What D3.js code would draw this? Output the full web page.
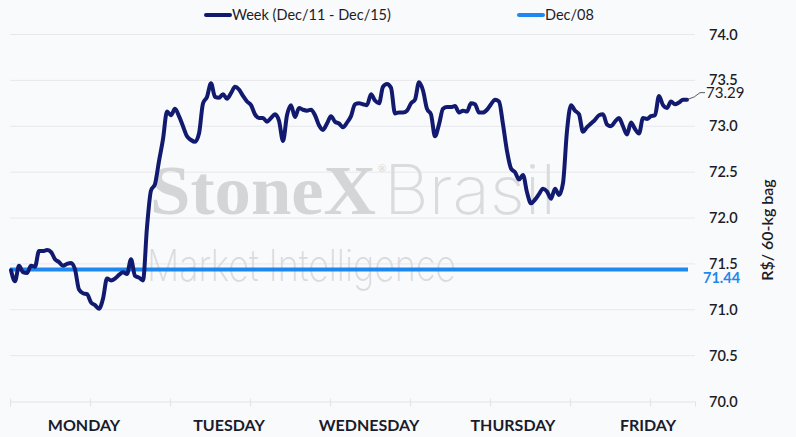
<!DOCTYPE html>
<html>
<head>
<meta charset="utf-8">
<script src="https://cdn.jsdelivr.net/npm/d3@7"></script>
<style>
  body { margin: 0; background: #f9fafc; }
  svg { display: block; font-family: Lato, "Noto Sans", sans-serif; }
</style>
</head>
<body>
<div class="chart"></div>
<script>
// intraday prices, week Dec/11 - Dec/15 (R$/60-kg bag)
var weekPrices = [
  71.43, 71.31, 71.48, 71.41, 71.40, 71.48, 71.47, 71.64, 71.64, 71.65,
  71.63, 71.55, 71.52, 71.48, 71.50, 71.51, 71.44, 71.22, 71.18, 71.17,
  71.08, 71.05, 71.01, 71.12, 71.34, 71.32, 71.34, 71.38, 71.41, 71.39,
  71.55, 71.37, 71.35, 71.32, 71.90, 72.30, 72.37, 72.62, 72.86, 73.16,
  73.12, 73.19, 73.11, 73.00, 72.89, 72.85, 72.83, 72.92, 73.25, 73.32,
  73.47, 73.32, 73.31, 73.35, 73.30, 73.36, 73.43, 73.40, 73.33, 73.27,
  73.23, 73.13, 73.09, 73.09, 73.05, 73.09, 73.13, 73.06, 72.84, 73.12,
  73.23, 73.10, 73.20, 73.18, 73.17, 73.18, 73.12, 73.01, 72.96, 73.03,
  73.11, 73.05, 73.03, 72.99, 73.04, 73.11, 73.24, 73.25, 73.24, 73.23,
  73.35, 73.28, 73.25, 73.43, 73.46, 73.42, 73.14, 73.15, 73.15, 73.17,
  73.25, 73.29, 73.48, 73.39, 73.19, 73.13, 72.89, 73.02, 73.19, 73.21,
  73.21, 73.22, 73.15, 73.17, 73.16, 73.25, 73.24, 73.15, 73.15, 73.18,
  73.24, 73.29, 73.27, 73.02, 72.73, 72.54, 72.50, 72.42, 72.47, 72.28,
  72.16, 72.20, 72.26, 72.32, 72.29, 72.21, 72.32, 72.25, 72.38, 72.95,
  73.23, 73.17, 73.13, 72.94, 72.99, 73.03, 73.07, 73.12, 73.13, 73.02,
  73.00, 73.05, 73.09, 73.00, 72.91, 73.04, 72.97, 72.92, 73.09, 73.08,
  73.11, 73.12, 73.33, 73.23, 73.20, 73.27, 73.24, 73.26, 73.29, 73.29
];
var refPrice = 71.44;   // Dec/08 close
var days = ["MONDAY", "TUESDAY", "WEDNESDAY", "THURSDAY", "FRIDAY"];
var dayPos = [18.25, 54.5, 89.5, 125.5, 159.25];
var xTicks = [-0.25, 19.75, 39.75, 59.75, 79.75, 99.75, 119.75, 139.75, 159.75];
var yTicks = [70.0, 70.5, 71.0, 71.5, 72.0, 72.5, 73.0, 73.5, 74.0];
var weekLabel = "Week (Dec/11 - Dec/15)";
var refLabel = "Dec/08";

var width = 796, height = 437;
var plotLeft = 10, plotRight = 695, plotTop = 34.5, plotBottom = 401.5;
var navy = "#121a70", blue = "#1e88ee";

var svg = d3.select(".chart").append("svg")
  .attr("width", width)
  .attr("height", height);

svg.append("rect").attr("width", width).attr("height", height).attr("fill", "#f9fafc");

var x = d3.scaleLinear().domain([-0.25, 171]).range([plotLeft, plotRight]);
var y = d3.scaleLinear().domain([70, 74]).range([plotBottom, plotTop]);

// grid
svg.append("g").selectAll("line")
  .data(yTicks.slice(1))
  .enter().append("line")
  .attr("x1", plotLeft).attr("x2", plotRight)
  .attr("y1", d => y(d)).attr("y2", d => y(d))
  .attr("stroke", "#e7e8ec").attr("stroke-width", 1);

// watermark
var wm = svg.append("g").attr("fill", "#d4d5d7");
wm.append("text").attr("x", 150).attr("y", 214)
  .attr("font-family", "'Liberation Serif', serif").attr("font-weight", "bold")
  .attr("font-size", 70).attr("textLength", 226).attr("lengthAdjust", "spacingAndGlyphs")
  .text("StoneX");
wm.append("text").attr("x", 378).attr("y", 172).attr("font-size", 10).text("®");
wm.append("text").attr("x", 384).attr("y", 214)
  .attr("font-family", "Inter, sans-serif").attr("font-weight", 200).attr("fill", "#dadbdd")
  .attr("font-size", 68).attr("textLength", 172).attr("lengthAdjust", "spacingAndGlyphs")
  .text("Brasil");
wm.append("text").attr("x", 147).attr("y", 281)
  .attr("font-family", "Inter, sans-serif").attr("font-weight", 200).attr("fill", "#dadbdd")
  .attr("font-size", 44).attr("textLength", 309).attr("lengthAdjust", "spacingAndGlyphs")
  .text("Market Intelligence");

// bottom axis
var xAxisGroup = svg.append("g")
  .attr("transform", "translate(0," + plotBottom + ")");
var xAxis = d3.axisBottom(x).tickValues(xTicks).tickSize(5).tickFormat("");
xAxis(xAxisGroup);
xAxisGroup.select(".domain").attr("stroke", "#e2e3e7");
xAxisGroup.selectAll(".tick line").attr("stroke", "#e2e3e7").attr("y1", -3);

svg.append("g").selectAll("text")
  .data(days)
  .enter().append("text")
  .attr("x", (d, i) => x(dayPos[i]))
  .attr("y", 431)
  .attr("text-anchor", "middle")
  .attr("font-size", 16).attr("font-weight", "bold").attr("fill", "#1a1c2b")
  .text(d => d);

// right axis labels
svg.append("g").selectAll("text")
  .data(yTicks)
  .enter().append("text")
  .attr("x", 709).attr("y", d => y(d) + 5)
  .attr("font-size", 14.5).attr("font-weight", 600).attr("fill", "#1c1c28")
  .text(d => d.toFixed(1));

svg.append("text")
  .attr("transform", "translate(773,230) rotate(-90)")
  .attr("text-anchor", "middle")
  .attr("font-size", 16).attr("font-weight", 600).attr("fill", "#1c1c28")
  .text("R$/ 60-kg bag");

// reference line
svg.append("line")
  .attr("x1", x(0) - 1).attr("x2", x(weekPrices.length - 1) + 1)
  .attr("y1", y(refPrice)).attr("y2", y(refPrice))
  .attr("stroke", blue).attr("stroke-width", 4);

// week line
var line = d3.line()
  .x((d, i) => x(i))
  .y(d => y(d))
  .curve(d3.curveMonotoneX);

svg.append("path")
  .datum(weekPrices)
  .attr("fill", "none")
  .attr("stroke", navy)
  .attr("stroke-width", 4)
  .attr("stroke-linejoin", "round")
  .attr("stroke-linecap", "round")
  .attr("d", line);

// end labels
var last = weekPrices[weekPrices.length - 1];
var lx = x(weekPrices.length - 1), ly = y(last);
svg.append("path")
  .attr("d", "M" + lx + "," + ly + " Q" + (lx + 8) + "," + (ly - 2) + " " + (lx + 13) + "," + (ly - 7) + " L" + (lx + 18) + "," + (ly - 7))
  .attr("fill", "none").attr("stroke", "#333").attr("stroke-width", 0.8);
svg.append("text")
  .attr("x", lx + 19).attr("y", ly - 2)
  .attr("font-size", 15).attr("fill", "#1c1c28")
  .text(last.toFixed(2));

svg.append("text")
  .attr("x", 703).attr("y", y(refPrice) + 14)
  .attr("font-size", 14.5).attr("font-weight", "bold").attr("fill", blue)
  .text(refPrice.toFixed(2));

// legend
var legend = svg.append("g");
[[weekLabel, navy, 206], [refLabel, blue, 519]].forEach(function (d) {
  legend.append("line")
    .attr("x1", d[2]).attr("x2", d[2] + 24)
    .attr("y1", 15).attr("y2", 15)
    .attr("stroke", d[1]).attr("stroke-width", 4).attr("stroke-linecap", "round");
  legend.append("text")
    .attr("x", d[2] + 26).attr("y", 20)
    .attr("font-size", 14.5).attr("fill", "#1c1c28")
    .text(d[0]);
});
</script>
</body>
</html>
